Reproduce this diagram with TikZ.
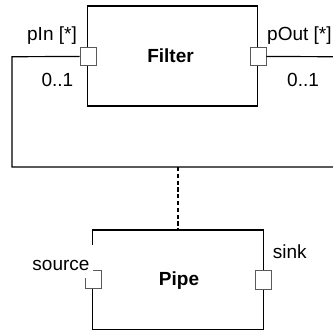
\documentclass[tikz,border=0pt]{standalone}
\usepackage{fontspec}
\setmainfont{Liberation Sans}
\begin{document}
\begin{tikzpicture}[x=1pt,y=-1pt,
  lbl/.style={inner sep=0pt,font=\fontsize{19}{22}\selectfont},
  title/.style={inner sep=0pt,font=\fontsize{19}{22}\selectfont\bfseries},
  part/.style={draw=black,line width=1.4pt,minimum width=#1,minimum height=100pt,inner sep=0pt},
  port/.style={draw=black!65,fill=white,line width=0.9pt,minimum width=16pt,minimum height=17.5pt,inner sep=0pt},
  conn/.style={draw=black,line width=1.2pt},
  dep/.style={draw=black,line width=1.5pt,dash pattern=on 4.2pt off 2.6pt}]
\useasboundingbox (0,0) rectangle (333,331);
% Filter part
\node[part=170pt] (filter) at (172.7,56) {};
\node[title,anchor=base] (filtertext) at (170.5,63) {Filter};
\node[port] (pin) at (88,56.5) {};
\node[port] (pout) at (258,56.5) {};
\node[lbl,anchor=base east] (pinlbl) at (77,41) {pIn [*]};
\node[lbl,anchor=base west] (poutlbl) at (267,40.5) {pOut [*]};
\node[lbl,anchor=base east] (pinmul) at (73.5,86.7) {0..1};
\node[lbl,anchor=base west] (poutmul) at (287,86.7) {0..1};
% connector
\coordinate (lt) at (12,56.7);
\coordinate (lb) at (12,167);
\coordinate (rb) at (333,167);
\coordinate (rt) at (333,56.7);
\coordinate (mid) at (177.8,167);
\draw[conn] (pin.west) -- (lt) -- (lb) -- (rb);
\draw[conn] (pout.east) -- (rt);
% Pipe part
\node[part=171pt,minimum height=99.3pt] (pipe) at (177.8,279.7) {};
\draw[dep] (mid) -- (pipe.north);
\node[title,anchor=base] (pipetext) at (179,286) {Pipe};
\node[port,minimum height=17.5pt] (src) at (93,279.5) {};
\node[port,minimum width=16.5pt,minimum height=18.3pt] (snk) at (263.3,280) {};
\node[lbl,anchor=base east,fill=white,inner xsep=3pt,inner ysep=0pt,text height=25.5pt,text depth=7.3pt] (srclbl) at (92.7,270.7) {source};
\node[lbl,anchor=base west] (snklbl) at (272.7,258.3) {sink};
\end{tikzpicture}
\end{document}
